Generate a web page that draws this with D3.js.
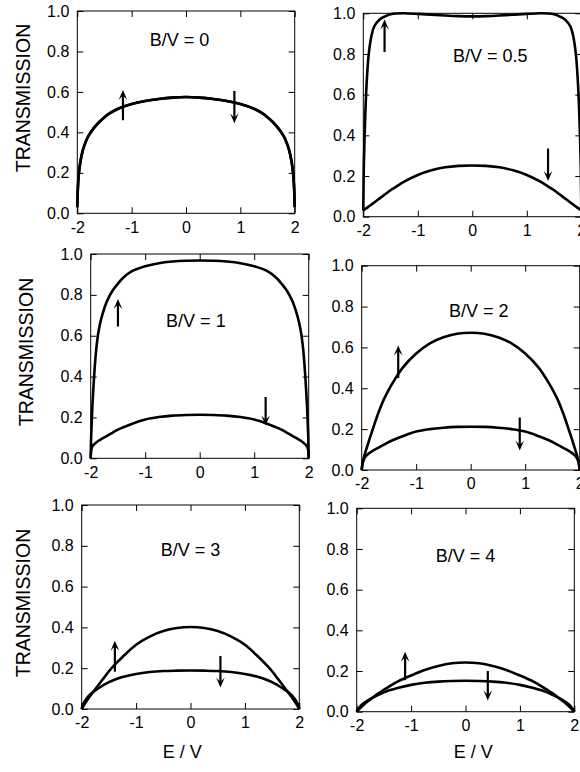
<!DOCTYPE html>
<html><head><meta charset="utf-8">
<script src="https://cdn.jsdelivr.net/npm/d3@7/dist/d3.min.js"></script>
<style>
body{margin:0;background:#fff}
svg{display:block}
</style>
</head><body><svg id="c" width="580" height="772"></svg>
<script>
// ---------- DATA ----------
const energy = [-2, -1.99, -1.97, -1.94, -1.9, -1.85, -1.8, -1.7, -1.6, -1.5, -1.4, -1.25, -1, -0.75, -0.5, -0.25, 0,
                0.25, 0.5, 0.75, 1, 1.25, 1.4, 1.5, 1.6, 1.7, 1.8, 1.85, 1.9, 1.94, 1.97, 1.99, 2];

const xTicks = [-2, -1, 0, 1, 2];
const xTickLabels = ["-2", "-1", "0", "1", "2"];
const yTicks = [0, 0.2, 0.4, 0.6, 0.8, 1.0];
const yTickLabels = ["0.0", "0.2", "0.4", "0.6", "0.8", "1.0"];
const panelTitles = ["B/V = 0", "B/V = 0.5", "B/V = 1", "B/V = 2", "B/V = 3", "B/V = 4"];
const yAxisTitle = "TRANSMISSION";
const xAxisTitle = "E / V";

const bv0 = [0.03,0.12,0.2,0.26,0.31,0.35,0.38,0.42,0.45,0.475,0.495,0.517,0.54,0.555,0.565,0.572,0.575,
             0.572,0.565,0.555,0.54,0.517,0.495,0.475,0.45,0.42,0.38,0.35,0.31,0.26,0.2,0.12,0.03];
const bv05Up = [0.03,0.25,0.45,0.65,0.8,0.89,0.935,0.97,0.985,0.995,0.999,1.0,0.997,0.993,0.989,0.986,0.985,
                0.986,0.989,0.993,0.997,1.0,0.999,0.995,0.985,0.97,0.935,0.89,0.8,0.65,0.45,0.25,0.03];
const bv05Down = [0.03,0.033,0.037,0.042,0.05,0.06,0.07,0.09,0.11,0.13,0.147,0.172,0.205,0.228,0.243,0.25,0.252,
                  0.25,0.243,0.228,0.205,0.172,0.147,0.13,0.11,0.09,0.07,0.06,0.05,0.042,0.037,0.033,0.03];
const bv1Up = [0,0.12,0.25,0.39,0.53,0.63,0.69,0.77,0.82,0.855,0.885,0.915,0.94,0.955,0.963,0.967,0.968,
               0.967,0.963,0.955,0.94,0.915,0.885,0.855,0.82,0.77,0.69,0.63,0.53,0.39,0.25,0.12,0];
const bv1Down = [0,0.04,0.058,0.068,0.077,0.087,0.095,0.11,0.125,0.14,0.152,0.168,0.19,0.202,0.209,0.212,0.213,
                 0.212,0.209,0.202,0.19,0.168,0.152,0.14,0.125,0.11,0.095,0.087,0.077,0.068,0.058,0.04,0];
const bv2Up = [0,0.02,0.05,0.08,0.115,0.157,0.197,0.275,0.342,0.395,0.44,0.5,0.57,0.62,0.65,0.667,0.672,
               0.667,0.65,0.62,0.57,0.5,0.44,0.395,0.342,0.275,0.197,0.157,0.115,0.08,0.05,0.02,0];
const bv2Down = [0,0.025,0.045,0.062,0.074,0.085,0.094,0.108,0.123,0.137,0.149,0.165,0.188,0.2,0.207,0.211,0.212,
                 0.211,0.207,0.2,0.188,0.165,0.149,0.137,0.123,0.108,0.094,0.085,0.074,0.062,0.045,0.025,0];
const bv3Up = [0,0.005,0.014,0.027,0.043,0.062,0.08,0.115,0.15,0.185,0.215,0.255,0.315,0.355,0.382,0.397,0.402,
               0.397,0.382,0.355,0.315,0.255,0.215,0.185,0.15,0.115,0.08,0.062,0.043,0.027,0.014,0.005,0];
const bv3Down = [0,0.012,0.025,0.04,0.055,0.07,0.082,0.1,0.117,0.132,0.143,0.157,0.172,0.181,0.186,0.188,0.189,
                 0.188,0.186,0.181,0.172,0.157,0.143,0.132,0.117,0.1,0.082,0.07,0.055,0.04,0.025,0.012,0];
const bv4Up = [0,0.003,0.009,0.017,0.027,0.039,0.05,0.07,0.09,0.108,0.125,0.148,0.178,0.205,0.225,0.238,0.242,
               0.238,0.225,0.205,0.178,0.148,0.125,0.108,0.09,0.07,0.05,0.039,0.027,0.017,0.009,0.003,0];
const bv4Down = [0,0.006,0.014,0.024,0.035,0.046,0.055,0.07,0.083,0.095,0.105,0.117,0.132,0.142,0.148,0.151,0.152,
                 0.151,0.148,0.142,0.132,0.117,0.105,0.095,0.083,0.07,0.055,0.046,0.035,0.024,0.014,0.006,0];

const spinUp   = [bv0, bv05Up, bv1Up, bv2Up, bv3Up, bv4Up];
const spinDown = [bv0, bv05Down, bv1Down, bv2Down, bv3Down, bv4Down];

// arrows: [E, from T, to T]
const upArrows   = [[-1.16,0.46,0.61],[-1.61,0.81,0.97],[-1.5,0.645,0.78],[-1.33,0.45,0.61],[-1.39,0.183,0.335],[-1.11,0.155,0.295]];
const downArrows = [[0.89,0.605,0.445],[1.39,0.335,0.175],[1.21,0.30,0.16],[0.9,0.257,0.095],[0.55,0.26,0.105],[0.41,0.2,0.055]];

// ---------- LAYOUT ----------
const layout = [
  {l:77.3,  t:11,    w:217.4, h:202.3, title:[-0.12,0.825]},
  {l:363.3, t:13.3,  w:218,   h:203.4, title:[0.33,0.76]},
  {l:90.7,  t:254,   w:218,   h:204.3, title:[-0.07,0.645]},
  {l:361.7, t:265.7, w:218,   h:204.3, title:[0.15,0.75]},
  {l:81.7,  t:505,   w:217.6, h:204,   title:[0.0,0.75]},
  {l:356.7, t:508.3, w:217.6, h:203.4, title:[0.0,0.735]}
];
const yLabelPos = [{x:22.7,y:98},{x:25.5,y:352},{x:23.3,y:603}];
const xLabelPos = [{x:182.3,y:757.5},{x:473.3,y:758}];
const FONT = '"Liberation Sans", Arial, Helvetica, sans-serif';

const svg = d3.select("#c");

function arrow(g, x, y1, y2) {
  const dir = y2 < y1 ? -1 : 1; // -1 up
  const headLen = 10, headW = 4.3;
  g.append("line").attr("x1", x).attr("x2", x).attr("y1", y1).attr("y2", y2 - dir*5)
    .attr("stroke", "#000").attr("stroke-width", 2.2);
  g.append("path")
    .attr("d", `M${x},${y2} L${x-headW},${y2 - dir*headLen} L${x},${y2 - dir*headLen*0.55} L${x+headW},${y2 - dir*headLen} Z`)
    .attr("fill", "#000");
}

layout.forEach((p, i) => {
  const x = d3.scaleLinear().domain([-2, 2]).range([p.l, p.l + p.w]);
  const y = d3.scaleLinear().domain([0, 1]).range([p.t + p.h, p.t]);
  const g = svg.append("g");

  const ax = [
    {a: d3.axisBottom(x).tickValues(xTicks).tickFormat((d,k)=>xTickLabels[k]).tickPadding(8), tr:`translate(0,${p.t+p.h})`},
    {a: d3.axisTop(x).tickValues(xTicks).tickFormat(""), tr:`translate(0,${p.t})`},
    {a: d3.axisLeft(y).tickValues(yTicks).tickFormat((d,k)=>yTickLabels[k]).tickPadding(8), tr:`translate(${p.l},0)`},
    {a: d3.axisRight(y).tickValues(yTicks).tickFormat(""), tr:`translate(${p.l+p.w},0)`}
  ];
  ax.forEach(o => {
    const ag = g.append("g").attr("transform", o.tr)
      .call(o.a.tickSizeInner(-6).tickSizeOuter(0));
    ag.select(".domain").remove();
    ag.selectAll("line").attr("stroke", "#000").attr("stroke-width", 1);
    ag.selectAll("text").attr("font-family", FONT).attr("font-size", 16).attr("fill", "#000");
  });
  g.append("rect").attr("x", p.l).attr("y", p.t).attr("width", p.w).attr("height", p.h)
    .attr("fill", "none").attr("stroke", "#000").attr("stroke-width", 1);

  const line = d3.line().x((d,k)=>x(energy[k])).y(d=>y(d)).curve(d3.curveCatmullRom.alpha(0.5));
  g.append("path").attr("d", line(spinDown[i])).attr("fill","none").attr("stroke","#000").attr("stroke-width",2.6);
  g.append("path").attr("d", line(spinUp[i])).attr("fill","none").attr("stroke","#000").attr("stroke-width",2.6);

  arrow(g, x(upArrows[i][0]), y(upArrows[i][1]), y(upArrows[i][2]));
  arrow(g, x(downArrows[i][0]), y(downArrows[i][1]), y(downArrows[i][2]));

  g.append("text").attr("x", x(p.title[0])).attr("y", y(p.title[1]))
    .attr("text-anchor","middle").attr("font-family", FONT).attr("font-size", 18).text(panelTitles[i]);
});

yLabelPos.forEach(o => {
  svg.append("text").attr("transform", `translate(${o.x+7},${o.y}) rotate(-90)`)
    .attr("text-anchor","middle").attr("font-family", FONT).attr("font-size", 19.5).text(yAxisTitle);
});
xLabelPos.forEach(o => {
  svg.append("text").attr("x", o.x).attr("y", o.y).attr("text-anchor","middle")
    .attr("font-family", FONT).attr("font-size", 18).text(xAxisTitle);
});
</script>
</body></html>
